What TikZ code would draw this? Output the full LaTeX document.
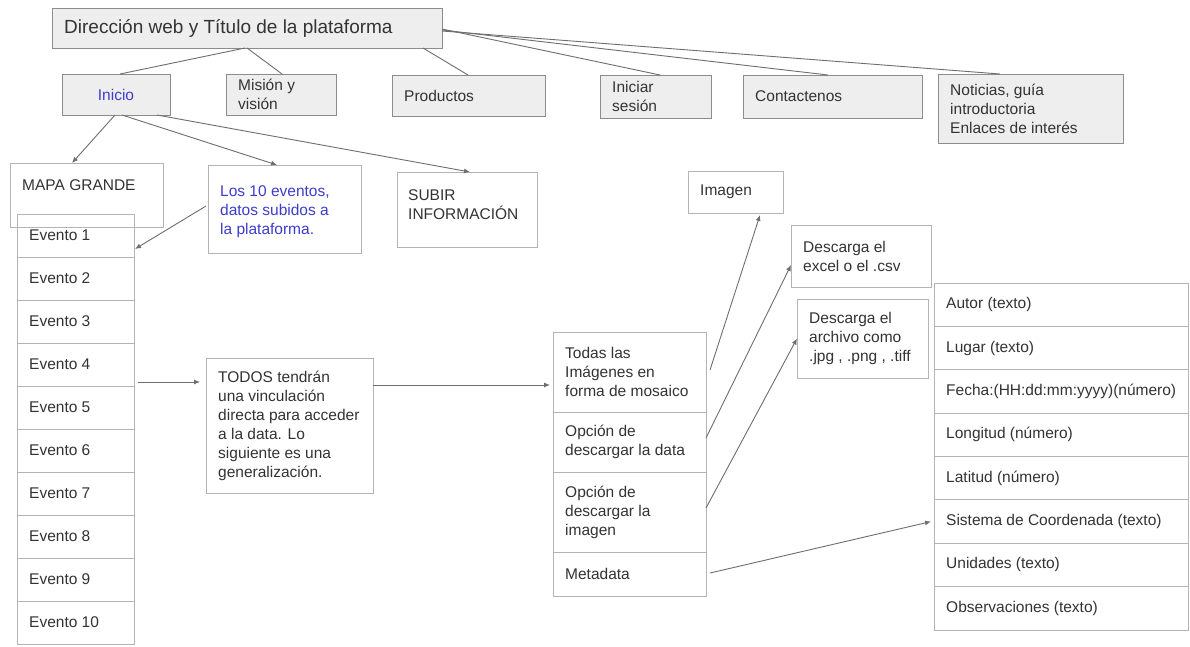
\documentclass[tikz,border=0pt]{standalone}
\usepackage{fontspec}
\setmainfont{Liberation Sans}
\usetikzlibrary{arrows.meta,calc}

\definecolor{boxline}{HTML}{B4B4B4}
\definecolor{grayline}{HTML}{8C8C8C}
\definecolor{grayfill}{HTML}{EEEEEE}
\definecolor{ink}{HTML}{333333}
\definecolor{bluetext}{HTML}{3D3DCC}
\definecolor{wire}{HTML}{6E6E6E}

\newcommand\bodyfont{\fontsize{15.5}{19}\selectfont}
\newcommand\titlefont{\fontsize{19}{22}\selectfont}

\tikzset{
  frame/.style={draw=boxline, line width=0.9pt, inner sep=0pt, outer sep=0pt, anchor=north west},
  grayframe/.style={frame, draw=grayline, fill=grayfill},
  txt/.style={inner sep=0pt, anchor=west, align=left, text=ink, font=\bodyfont},
  link/.style={draw=wire, line width=0.9pt},
  arrowlink/.style={link, -{Latex[length=6pt,width=5pt]}}
}

% box with its text set 12pt in from the left edge, vertically centred
\newcommand\textbox[7]{%
  \node[#1, minimum width=#5pt, minimum height=#6pt] (#2) at (#3,#4) {};
  \node[txt] (#2-t) at ([xshift=12pt]#2.west) {#7};}

\begin{document}
\begin{tikzpicture}[x=1pt,y=-1pt]
\useasboundingbox[fill=white] (0,0) rectangle (1190,646);

% header
\node[grayframe, minimum width=390pt, minimum height=40pt] (title) at (52,8) {};
\node[txt, font=\titlefont] (title-t) at ([xshift=12pt]title.west) {Dirección web y Título de la plataforma};

% menu
\node[grayframe, minimum width=108pt, minimum height=41pt] (inicio) at (62,74) {};
\node[txt, anchor=center, text=bluetext] (inicio-t) at (inicio.center) {Inicio};
\textbox{grayframe}{mision}{226}{74}{110}{41}{Misión y\\visión}
\textbox{grayframe}{productos}{392}{75}{153}{41}{Productos}
\textbox{grayframe}{iniciar}{600}{75}{111}{43}{Iniciar\\sesión}
\textbox{grayframe}{contact}{743}{75}{179}{43}{Contactenos}
\textbox{grayframe}{noticias}{938}{74}{185}{69}{Noticias, guía\\introductoria\\Enlaces de interés}

% home page blocks
\node[frame, minimum width=153pt, minimum height=64pt] (mapa) at (10,163) {};
\node[txt] (mapa-t) at ([xshift=12pt,yshift=-22pt]mapa.north west) {MAPA GRANDE};
\node[frame, minimum width=153pt, minimum height=88pt] (los10) at (208,165) {};
\node[txt, text=bluetext] (los10-t) at ([xshift=12pt,yshift=-3pt]los10.west) {Los 10 eventos,\\datos subidos a\\la plataforma.};
\node[frame, minimum width=140pt, minimum height=75pt] (subir) at (397,172) {};
\node[txt] (subir-t) at ([xshift=11pt,yshift=5pt]subir.west) {SUBIR\\INFORMACIÓN};

% list of events
\foreach \i in {1,...,10}{
  \node[frame, minimum width=117pt, minimum height=43pt] (ev\i) at (17,{214+43*(\i-1)}) {};
  \node[txt] (ev\i-t) at ([xshift=12pt]ev\i.west) {Evento \i};
}

\textbox{frame}{todos}{206}{358}{167}{135}{TODOS tendrán\\una vinculación\\directa para acceder\\a la data. Lo\\siguiente es una\\generalización.}

% event page
\textbox{frame}{todas}{553}{332}{153}{80}{Todas las\\Imágenes en\\forma de mosaico}
\textbox{frame}{opcdata}{553}{412}{153}{60}{Opción de\\descargar la data}
\textbox{frame}{opcimg}{553}{472}{153}{80}{Opción de\\descargar la\\imagen}
\textbox{frame}{metadata}{553}{552}{153}{44}{Metadata}

\textbox{frame}{imagen}{688}{171}{95}{42}{Imagen}
\textbox{frame}{excel}{791}{225}{140}{62}{Descarga el\\excel o el .csv}
\textbox{frame}{archivo}{797}{299}{131}{79}{Descarga el\\archivo como\\.jpg , .png , .tiff}

% metadata fields
\foreach \i/\lbl in {1/Autor (texto), 2/Lugar (texto), 3/Fecha:(HH:dd:mm:yyyy)(número),
  4/Longitud (número), 5/Latitud (número), 6/Sistema de Coordenada (texto),
  7/Unidades (texto), 8/Observaciones (texto)}{
  \node[frame, minimum width=254pt, minimum height=43.375pt] (f\i) at (934,{283+43.375*(\i-1)}) {};
  \node[txt] (f\i-t) at ([xshift=12pt]f\i.west) {\lbl};
}

% header to menu
\draw[link] ($(title.south west)+(193,0)$) -- ($(inicio.north west)+(58,0)$);
\draw[link] ($(title.south west)+(195,0)$) -- ($(mision.north west)+(56,0)$);
\draw[link] ($(title.south west)+(371,0)$) -- ($(productos.north west)+(76,0)$);
\draw[link] ($(title.north east)+(0,21)$) -- ($(iniciar.north west)+(60,0)$);
\draw[link] ($(title.north east)+(0,22)$) -- ($(contact.north west)+(85,0)$);
\draw[link] ($(title.north east)+(0,23)$) -- ($(noticias.north west)+(62,0)$);

% home page
\draw[arrowlink] ($(inicio.south west)+(53,0)$) -- ($(mapa.north west)+(62,0)$);
\draw[arrowlink] ($(inicio.south west)+(60,0)$) -- ($(los10.north west)+(69,0)$);
\draw[arrowlink] ($(inicio.south west)+(95,0)$) -- ($(subir.north west)+(73,0)$);
\draw[arrowlink] ($(los10.west)+(-2,-3)$) -- ($(ev1.south east)+(1,-8)$);

% events to detail page
\draw[arrowlink] ($(ev4.south east)+(4,-4)$) -- ($(todos.north west)+(-6,24)$);
\draw[arrowlink] ($(todos.north east)+(0,27)$) -- ($(todas.north west)+(-3,53)$);
\draw[arrowlink] ($(todas.east)+(4,-2)$) -- ($(imagen.south west)+(72,2)$);
\draw[arrowlink] ($(opcdata.east)+(0,-4)$) -- ($(excel.north west)+(0,40)$);
\draw[arrowlink] ($(opcimg.east)+(0,-4)$) -- (archivo.west);
\draw[arrowlink] ($(metadata.east)+(4,-1)$) -- ($(f6.west)+(-3,0)$);
\end{tikzpicture}
\end{document}
